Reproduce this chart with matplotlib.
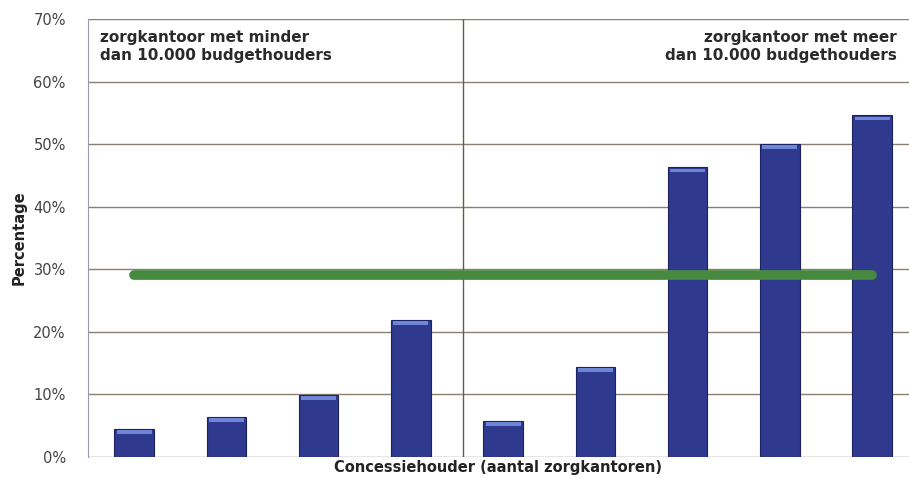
import matplotlib.pyplot as plt
from matplotlib.ticker import PercentFormatter

concessiehouders = list(range(1, 10))
percentages = [4.5, 6.4, 9.9, 21.9, 5.8, 14.4, 46.3, 50.0, 54.6]
gemiddelde = 29.1
yticks = [0, 10, 20, 30, 40, 50, 60, 70]

fig = plt.figure(figsize=(9.09, 4.79), dpi=100)
ax = fig.add_axes([0.0968, 0.046, 0.9032, 0.914])

x = list(range(len(percentages)))
ax.bar(x, percentages, width=0.43, color="#2f3a8f", edgecolor="#1c2260", linewidth=0.8, zorder=3)
# lighter cap on top of the bars
ax.bar(x, [0.6] * len(x), bottom=[p - 0.8 for p in percentages], width=0.38,
       color="#6f86d6", linewidth=0, zorder=4)

ax.plot([x[0], x[-1]], [gemiddelde, gemiddelde], color="#46893f", linewidth=7,
        solid_capstyle="round", zorder=5)

ax.axvline(3.57, color="#6b5a45", linewidth=1, zorder=2)

ax.set_xlim(-0.5, 8.4)
ax.set_ylim(0, 70)
ax.set_yticks(yticks)
ax.yaxis.set_major_formatter(PercentFormatter(decimals=0))
ax.set_xticks([])
ax.grid(axis="y", color="#8a7f72", linewidth=1, zorder=1)
ax.tick_params(axis="y", length=0, pad=16, labelsize=10.5, labelcolor="#444444")

for s in ["top", "right", "bottom"]:
    ax.spines[s].set_visible(False)
ax.spines["left"].set_color("#9a9aa8")

ax.set_ylabel("Percentage", fontsize=10.5, fontweight="bold", color="#222222", labelpad=5)
ax.set_xlabel("Concessiehouder (aantal zorgkantoren)", fontsize=10.5, fontweight="bold",
              color="#222222", labelpad=2)

ax.text(0.015, 0.975, "zorgkantoor met minder\ndan 10.000 budgethouders", transform=ax.transAxes,
        ha="left", va="top", fontsize=11, fontweight="bold", color="#2a2a2a", linespacing=1.25)
ax.text(0.985, 0.975, "zorgkantoor met meer\ndan 10.000 budgethouders", transform=ax.transAxes,
        ha="right", va="top", fontsize=11, fontweight="bold", color="#2a2a2a",
        linespacing=1.25, multialignment="right")

fig.savefig("out.png", dpi=100)
